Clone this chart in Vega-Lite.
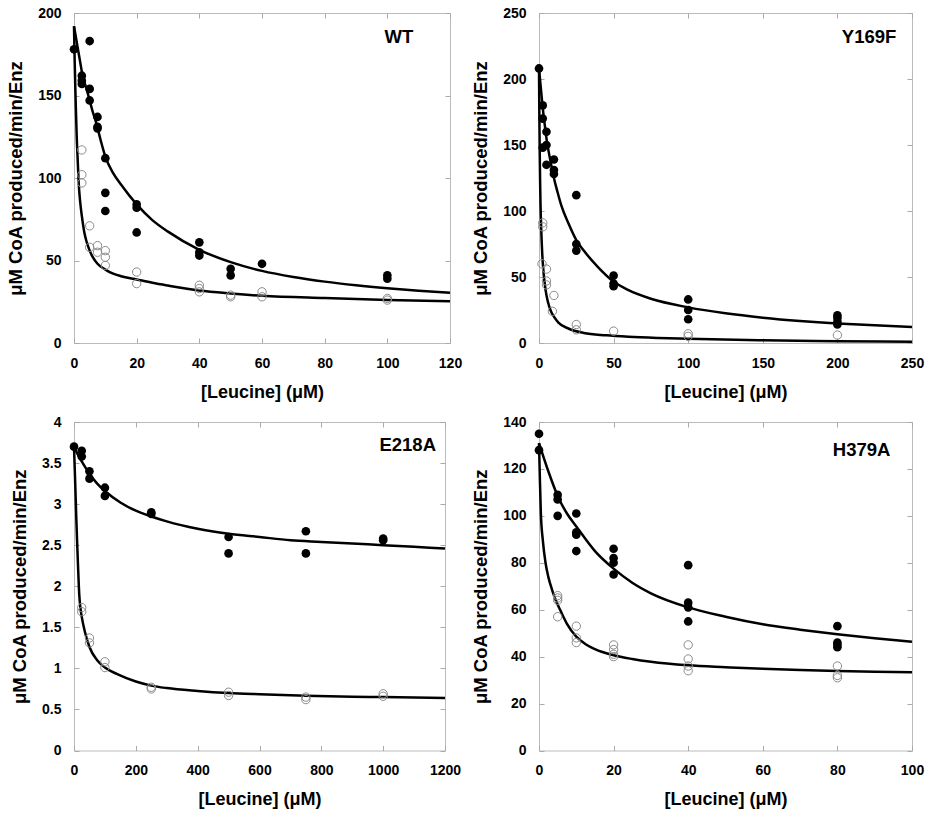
{
  "$schema": "https://vega.github.io/schema/vega-lite/v6.json",
  "background": "white",
  "padding": {"left": 6, "top": 5, "right": 5, "bottom": 5},
  "bounds": "flush",
  "columns": 2,
  "spacing": {"row": 79, "column": 89},
  "config": {
    "view": {"stroke": "#bbbbbb", "strokeWidth": 1},
    "axis": {
      "grid": false,
      "domain": false,
      "tickColor": "#aaaaaa",
      "tickSize": -5,
      "tickWidth": 1,
      "labelFlush": false,
      "labelFont": "Liberation Sans",
      "labelFontSize": 14,
      "labelFontWeight": "bold",
      "labelColor": "black",
      "labelPadding": 18,
      "titleFont": "Liberation Sans",
      "titleFontSize": 18,
      "titleFontWeight": "bold",
      "titleColor": "black"
    },
    "axisY": {"titleFontSize": 18.5, "titlePadding": 12},
    "axisX": {"titlePadding": 13}
  },
  "datasets": {
    "points": [
      {"panel": "WT", "kind": "filled", "x": 0, "y": 178},
      {"panel": "WT", "kind": "filled", "x": 2.5, "y": 162},
      {"panel": "WT", "kind": "filled", "x": 2.5, "y": 159},
      {"panel": "WT", "kind": "filled", "x": 2.5, "y": 157},
      {"panel": "WT", "kind": "filled", "x": 5, "y": 183},
      {"panel": "WT", "kind": "filled", "x": 5, "y": 154},
      {"panel": "WT", "kind": "filled", "x": 5, "y": 147},
      {"panel": "WT", "kind": "filled", "x": 7.5, "y": 137},
      {"panel": "WT", "kind": "filled", "x": 7.5, "y": 131},
      {"panel": "WT", "kind": "filled", "x": 7.5, "y": 130},
      {"panel": "WT", "kind": "filled", "x": 10, "y": 112},
      {"panel": "WT", "kind": "filled", "x": 10, "y": 91},
      {"panel": "WT", "kind": "filled", "x": 10, "y": 80},
      {"panel": "WT", "kind": "filled", "x": 20, "y": 84},
      {"panel": "WT", "kind": "filled", "x": 20, "y": 82},
      {"panel": "WT", "kind": "filled", "x": 20, "y": 67},
      {"panel": "WT", "kind": "filled", "x": 40, "y": 61},
      {"panel": "WT", "kind": "filled", "x": 40, "y": 55},
      {"panel": "WT", "kind": "filled", "x": 40, "y": 53},
      {"panel": "WT", "kind": "filled", "x": 50, "y": 45},
      {"panel": "WT", "kind": "filled", "x": 50, "y": 41},
      {"panel": "WT", "kind": "filled", "x": 60, "y": 48},
      {"panel": "WT", "kind": "filled", "x": 100, "y": 41},
      {"panel": "WT", "kind": "filled", "x": 100, "y": 39},
      {"panel": "WT", "kind": "open", "x": 2.5, "y": 117},
      {"panel": "WT", "kind": "open", "x": 2.5, "y": 102},
      {"panel": "WT", "kind": "open", "x": 2.5, "y": 97},
      {"panel": "WT", "kind": "open", "x": 5, "y": 71},
      {"panel": "WT", "kind": "open", "x": 5, "y": 58},
      {"panel": "WT", "kind": "open", "x": 7.5, "y": 59},
      {"panel": "WT", "kind": "open", "x": 7.5, "y": 55},
      {"panel": "WT", "kind": "open", "x": 10, "y": 56},
      {"panel": "WT", "kind": "open", "x": 10, "y": 52},
      {"panel": "WT", "kind": "open", "x": 10, "y": 47},
      {"panel": "WT", "kind": "open", "x": 20, "y": 43},
      {"panel": "WT", "kind": "open", "x": 20, "y": 36},
      {"panel": "WT", "kind": "open", "x": 40, "y": 35},
      {"panel": "WT", "kind": "open", "x": 40, "y": 33},
      {"panel": "WT", "kind": "open", "x": 40, "y": 31},
      {"panel": "WT", "kind": "open", "x": 50, "y": 29},
      {"panel": "WT", "kind": "open", "x": 50, "y": 28},
      {"panel": "WT", "kind": "open", "x": 60, "y": 31},
      {"panel": "WT", "kind": "open", "x": 60, "y": 28},
      {"panel": "WT", "kind": "open", "x": 100, "y": 27},
      {"panel": "WT", "kind": "open", "x": 100, "y": 26},

      {"panel": "Y169F", "kind": "filled", "x": 0, "y": 208},
      {"panel": "Y169F", "kind": "filled", "x": 2.5, "y": 180},
      {"panel": "Y169F", "kind": "filled", "x": 2.5, "y": 170},
      {"panel": "Y169F", "kind": "filled", "x": 2.5, "y": 148},
      {"panel": "Y169F", "kind": "filled", "x": 5, "y": 160},
      {"panel": "Y169F", "kind": "filled", "x": 5, "y": 150},
      {"panel": "Y169F", "kind": "filled", "x": 5, "y": 135},
      {"panel": "Y169F", "kind": "filled", "x": 10, "y": 139},
      {"panel": "Y169F", "kind": "filled", "x": 10, "y": 131},
      {"panel": "Y169F", "kind": "filled", "x": 10, "y": 128},
      {"panel": "Y169F", "kind": "filled", "x": 25, "y": 112},
      {"panel": "Y169F", "kind": "filled", "x": 25, "y": 75},
      {"panel": "Y169F", "kind": "filled", "x": 25, "y": 70},
      {"panel": "Y169F", "kind": "filled", "x": 50, "y": 51},
      {"panel": "Y169F", "kind": "filled", "x": 50, "y": 45},
      {"panel": "Y169F", "kind": "filled", "x": 50, "y": 43},
      {"panel": "Y169F", "kind": "filled", "x": 100, "y": 33},
      {"panel": "Y169F", "kind": "filled", "x": 100, "y": 25},
      {"panel": "Y169F", "kind": "filled", "x": 100, "y": 18},
      {"panel": "Y169F", "kind": "filled", "x": 200, "y": 21},
      {"panel": "Y169F", "kind": "filled", "x": 200, "y": 19},
      {"panel": "Y169F", "kind": "filled", "x": 200, "y": 16},
      {"panel": "Y169F", "kind": "filled", "x": 200, "y": 14},
      {"panel": "Y169F", "kind": "open", "x": 2.5, "y": 91},
      {"panel": "Y169F", "kind": "open", "x": 2.5, "y": 88},
      {"panel": "Y169F", "kind": "open", "x": 2, "y": 60},
      {"panel": "Y169F", "kind": "open", "x": 5, "y": 56},
      {"panel": "Y169F", "kind": "open", "x": 5, "y": 47},
      {"panel": "Y169F", "kind": "open", "x": 5, "y": 44},
      {"panel": "Y169F", "kind": "open", "x": 10, "y": 36},
      {"panel": "Y169F", "kind": "open", "x": 9, "y": 24},
      {"panel": "Y169F", "kind": "open", "x": 25, "y": 14},
      {"panel": "Y169F", "kind": "open", "x": 25, "y": 10},
      {"panel": "Y169F", "kind": "open", "x": 50, "y": 9},
      {"panel": "Y169F", "kind": "open", "x": 100, "y": 7},
      {"panel": "Y169F", "kind": "open", "x": 100, "y": 5},
      {"panel": "Y169F", "kind": "open", "x": 200, "y": 6},

      {"panel": "E218A", "kind": "filled", "x": 0, "y": 3.7},
      {"panel": "E218A", "kind": "filled", "x": 25, "y": 3.65},
      {"panel": "E218A", "kind": "filled", "x": 25, "y": 3.58},
      {"panel": "E218A", "kind": "filled", "x": 50, "y": 3.4},
      {"panel": "E218A", "kind": "filled", "x": 50, "y": 3.31},
      {"panel": "E218A", "kind": "filled", "x": 100, "y": 3.2},
      {"panel": "E218A", "kind": "filled", "x": 100, "y": 3.1},
      {"panel": "E218A", "kind": "filled", "x": 250, "y": 2.9},
      {"panel": "E218A", "kind": "filled", "x": 250, "y": 2.88},
      {"panel": "E218A", "kind": "filled", "x": 500, "y": 2.6},
      {"panel": "E218A", "kind": "filled", "x": 500, "y": 2.4},
      {"panel": "E218A", "kind": "filled", "x": 750, "y": 2.67},
      {"panel": "E218A", "kind": "filled", "x": 750, "y": 2.4},
      {"panel": "E218A", "kind": "filled", "x": 1000, "y": 2.58},
      {"panel": "E218A", "kind": "filled", "x": 1000, "y": 2.56},
      {"panel": "E218A", "kind": "open", "x": 25, "y": 1.74},
      {"panel": "E218A", "kind": "open", "x": 25, "y": 1.69},
      {"panel": "E218A", "kind": "open", "x": 50, "y": 1.37},
      {"panel": "E218A", "kind": "open", "x": 50, "y": 1.31},
      {"panel": "E218A", "kind": "open", "x": 100, "y": 1.08},
      {"panel": "E218A", "kind": "open", "x": 100, "y": 1.01},
      {"panel": "E218A", "kind": "open", "x": 250, "y": 0.77},
      {"panel": "E218A", "kind": "open", "x": 250, "y": 0.75},
      {"panel": "E218A", "kind": "open", "x": 500, "y": 0.71},
      {"panel": "E218A", "kind": "open", "x": 500, "y": 0.67},
      {"panel": "E218A", "kind": "open", "x": 750, "y": 0.65},
      {"panel": "E218A", "kind": "open", "x": 750, "y": 0.62},
      {"panel": "E218A", "kind": "open", "x": 1000, "y": 0.69},
      {"panel": "E218A", "kind": "open", "x": 1000, "y": 0.66},

      {"panel": "H379A", "kind": "filled", "x": 0, "y": 135},
      {"panel": "H379A", "kind": "filled", "x": 0, "y": 128},
      {"panel": "H379A", "kind": "filled", "x": 5, "y": 109},
      {"panel": "H379A", "kind": "filled", "x": 5, "y": 107},
      {"panel": "H379A", "kind": "filled", "x": 5, "y": 100},
      {"panel": "H379A", "kind": "filled", "x": 10, "y": 101},
      {"panel": "H379A", "kind": "filled", "x": 10, "y": 93},
      {"panel": "H379A", "kind": "filled", "x": 10, "y": 92},
      {"panel": "H379A", "kind": "filled", "x": 10, "y": 85},
      {"panel": "H379A", "kind": "filled", "x": 20, "y": 86},
      {"panel": "H379A", "kind": "filled", "x": 20, "y": 82},
      {"panel": "H379A", "kind": "filled", "x": 20, "y": 80},
      {"panel": "H379A", "kind": "filled", "x": 20, "y": 75},
      {"panel": "H379A", "kind": "filled", "x": 40, "y": 79},
      {"panel": "H379A", "kind": "filled", "x": 40, "y": 63},
      {"panel": "H379A", "kind": "filled", "x": 40, "y": 61},
      {"panel": "H379A", "kind": "filled", "x": 40, "y": 55},
      {"panel": "H379A", "kind": "filled", "x": 80, "y": 53},
      {"panel": "H379A", "kind": "filled", "x": 80, "y": 46},
      {"panel": "H379A", "kind": "filled", "x": 80, "y": 45},
      {"panel": "H379A", "kind": "filled", "x": 80, "y": 44},
      {"panel": "H379A", "kind": "open", "x": 5, "y": 66},
      {"panel": "H379A", "kind": "open", "x": 5, "y": 65},
      {"panel": "H379A", "kind": "open", "x": 5, "y": 64},
      {"panel": "H379A", "kind": "open", "x": 5, "y": 57},
      {"panel": "H379A", "kind": "open", "x": 10, "y": 53},
      {"panel": "H379A", "kind": "open", "x": 10, "y": 48},
      {"panel": "H379A", "kind": "open", "x": 10, "y": 46},
      {"panel": "H379A", "kind": "open", "x": 20, "y": 45},
      {"panel": "H379A", "kind": "open", "x": 20, "y": 43},
      {"panel": "H379A", "kind": "open", "x": 20, "y": 41},
      {"panel": "H379A", "kind": "open", "x": 20, "y": 40},
      {"panel": "H379A", "kind": "open", "x": 40, "y": 45},
      {"panel": "H379A", "kind": "open", "x": 40, "y": 39},
      {"panel": "H379A", "kind": "open", "x": 40, "y": 36},
      {"panel": "H379A", "kind": "open", "x": 40, "y": 34},
      {"panel": "H379A", "kind": "open", "x": 80, "y": 36},
      {"panel": "H379A", "kind": "open", "x": 80, "y": 32},
      {"panel": "H379A", "kind": "open", "x": 80, "y": 31}
    ],
    "curves": [
      {"panel": "WT", "series": "filled", "x": 0, "y": 192},
      {"panel": "WT", "series": "filled", "x": 1, "y": 181},
      {"panel": "WT", "series": "filled", "x": 2, "y": 170},
      {"panel": "WT", "series": "filled", "x": 2.75, "y": 162},
      {"panel": "WT", "series": "filled", "x": 4, "y": 154},
      {"panel": "WT", "series": "filled", "x": 5, "y": 147},
      {"panel": "WT", "series": "filled", "x": 6, "y": 140},
      {"panel": "WT", "series": "filled", "x": 7, "y": 134},
      {"panel": "WT", "series": "filled", "x": 8.5, "y": 123},
      {"panel": "WT", "series": "filled", "x": 10, "y": 113},
      {"panel": "WT", "series": "filled", "x": 12.5, "y": 103},
      {"panel": "WT", "series": "filled", "x": 15, "y": 96},
      {"panel": "WT", "series": "filled", "x": 20, "y": 84},
      {"panel": "WT", "series": "filled", "x": 25, "y": 74.5},
      {"panel": "WT", "series": "filled", "x": 30, "y": 67.5},
      {"panel": "WT", "series": "filled", "x": 40, "y": 56.5},
      {"panel": "WT", "series": "filled", "x": 50, "y": 49},
      {"panel": "WT", "series": "filled", "x": 60, "y": 43.7},
      {"panel": "WT", "series": "filled", "x": 70, "y": 40},
      {"panel": "WT", "series": "filled", "x": 80, "y": 37.2},
      {"panel": "WT", "series": "filled", "x": 90, "y": 35},
      {"panel": "WT", "series": "filled", "x": 100, "y": 33.2},
      {"panel": "WT", "series": "filled", "x": 110, "y": 31.7},
      {"panel": "WT", "series": "filled", "x": 120, "y": 30.4},
      {"panel": "WT", "series": "open", "x": 0, "y": 192},
      {"panel": "WT", "series": "open", "x": 0.2, "y": 172},
      {"panel": "WT", "series": "open", "x": 0.4, "y": 156},
      {"panel": "WT", "series": "open", "x": 0.6, "y": 142},
      {"panel": "WT", "series": "open", "x": 0.85, "y": 126},
      {"panel": "WT", "series": "open", "x": 1.2, "y": 110},
      {"panel": "WT", "series": "open", "x": 1.5, "y": 97},
      {"panel": "WT", "series": "open", "x": 2, "y": 85},
      {"panel": "WT", "series": "open", "x": 2.5, "y": 77},
      {"panel": "WT", "series": "open", "x": 3.3, "y": 67},
      {"panel": "WT", "series": "open", "x": 4, "y": 61.5},
      {"panel": "WT", "series": "open", "x": 5, "y": 56},
      {"panel": "WT", "series": "open", "x": 6, "y": 52},
      {"panel": "WT", "series": "open", "x": 7.5, "y": 48},
      {"panel": "WT", "series": "open", "x": 10, "y": 44.5},
      {"panel": "WT", "series": "open", "x": 12.5, "y": 42},
      {"panel": "WT", "series": "open", "x": 15, "y": 40.5},
      {"panel": "WT", "series": "open", "x": 20, "y": 38.5},
      {"panel": "WT", "series": "open", "x": 25, "y": 36.5},
      {"panel": "WT", "series": "open", "x": 30, "y": 34.8},
      {"panel": "WT", "series": "open", "x": 40, "y": 31.8},
      {"panel": "WT", "series": "open", "x": 50, "y": 30},
      {"panel": "WT", "series": "open", "x": 60, "y": 28.6},
      {"panel": "WT", "series": "open", "x": 80, "y": 27.2},
      {"panel": "WT", "series": "open", "x": 100, "y": 26.1},
      {"panel": "WT", "series": "open", "x": 120, "y": 25.3},

      {"panel": "Y169F", "series": "filled", "x": 0, "y": 208},
      {"panel": "Y169F", "series": "filled", "x": 1, "y": 196},
      {"panel": "Y169F", "series": "filled", "x": 2, "y": 184},
      {"panel": "Y169F", "series": "filled", "x": 3, "y": 173},
      {"panel": "Y169F", "series": "filled", "x": 4, "y": 164},
      {"panel": "Y169F", "series": "filled", "x": 5, "y": 155},
      {"panel": "Y169F", "series": "filled", "x": 6, "y": 148},
      {"panel": "Y169F", "series": "filled", "x": 8, "y": 136},
      {"panel": "Y169F", "series": "filled", "x": 10, "y": 125},
      {"panel": "Y169F", "series": "filled", "x": 12.5, "y": 114},
      {"panel": "Y169F", "series": "filled", "x": 15, "y": 104},
      {"panel": "Y169F", "series": "filled", "x": 20, "y": 90},
      {"panel": "Y169F", "series": "filled", "x": 25, "y": 78},
      {"panel": "Y169F", "series": "filled", "x": 30, "y": 70},
      {"panel": "Y169F", "series": "filled", "x": 40, "y": 57},
      {"panel": "Y169F", "series": "filled", "x": 50, "y": 46.5},
      {"panel": "Y169F", "series": "filled", "x": 60, "y": 40},
      {"panel": "Y169F", "series": "filled", "x": 75, "y": 33.5},
      {"panel": "Y169F", "series": "filled", "x": 100, "y": 27},
      {"panel": "Y169F", "series": "filled", "x": 125, "y": 22.5},
      {"panel": "Y169F", "series": "filled", "x": 150, "y": 19.2},
      {"panel": "Y169F", "series": "filled", "x": 175, "y": 16.7},
      {"panel": "Y169F", "series": "filled", "x": 200, "y": 14.8},
      {"panel": "Y169F", "series": "filled", "x": 225, "y": 13.4},
      {"panel": "Y169F", "series": "filled", "x": 250, "y": 12.2},
      {"panel": "Y169F", "series": "open", "x": 0, "y": 208},
      {"panel": "Y169F", "series": "open", "x": 0.25, "y": 170},
      {"panel": "Y169F", "series": "open", "x": 0.5, "y": 143},
      {"panel": "Y169F", "series": "open", "x": 0.75, "y": 122},
      {"panel": "Y169F", "series": "open", "x": 1, "y": 106},
      {"panel": "Y169F", "series": "open", "x": 1.5, "y": 86},
      {"panel": "Y169F", "series": "open", "x": 2.2, "y": 67},
      {"panel": "Y169F", "series": "open", "x": 3, "y": 54},
      {"panel": "Y169F", "series": "open", "x": 4.5, "y": 39.5},
      {"panel": "Y169F", "series": "open", "x": 6, "y": 31},
      {"panel": "Y169F", "series": "open", "x": 8, "y": 24},
      {"panel": "Y169F", "series": "open", "x": 10, "y": 20},
      {"panel": "Y169F", "series": "open", "x": 13, "y": 15.5},
      {"panel": "Y169F", "series": "open", "x": 20, "y": 10.8},
      {"panel": "Y169F", "series": "open", "x": 30, "y": 7.6},
      {"panel": "Y169F", "series": "open", "x": 45, "y": 5.8},
      {"panel": "Y169F", "series": "open", "x": 60, "y": 4.7},
      {"panel": "Y169F", "series": "open", "x": 80, "y": 3.8},
      {"panel": "Y169F", "series": "open", "x": 100, "y": 3.2},
      {"panel": "Y169F", "series": "open", "x": 150, "y": 2.1},
      {"panel": "Y169F", "series": "open", "x": 200, "y": 1.4},
      {"panel": "Y169F", "series": "open", "x": 250, "y": 0.9},

      {"panel": "E218A", "series": "filled", "x": 0, "y": 3.7},
      {"panel": "E218A", "series": "filled", "x": 10, "y": 3.62},
      {"panel": "E218A", "series": "filled", "x": 25, "y": 3.52},
      {"panel": "E218A", "series": "filled", "x": 50, "y": 3.37},
      {"panel": "E218A", "series": "filled", "x": 75, "y": 3.25},
      {"panel": "E218A", "series": "filled", "x": 100, "y": 3.16},
      {"panel": "E218A", "series": "filled", "x": 150, "y": 3.02},
      {"panel": "E218A", "series": "filled", "x": 200, "y": 2.92},
      {"panel": "E218A", "series": "filled", "x": 250, "y": 2.85},
      {"panel": "E218A", "series": "filled", "x": 300, "y": 2.79},
      {"panel": "E218A", "series": "filled", "x": 400, "y": 2.7},
      {"panel": "E218A", "series": "filled", "x": 500, "y": 2.64},
      {"panel": "E218A", "series": "filled", "x": 600, "y": 2.6},
      {"panel": "E218A", "series": "filled", "x": 700, "y": 2.56},
      {"panel": "E218A", "series": "filled", "x": 800, "y": 2.54},
      {"panel": "E218A", "series": "filled", "x": 900, "y": 2.52},
      {"panel": "E218A", "series": "filled", "x": 1000, "y": 2.5},
      {"panel": "E218A", "series": "filled", "x": 1100, "y": 2.48},
      {"panel": "E218A", "series": "filled", "x": 1200, "y": 2.46},
      {"panel": "E218A", "series": "open", "x": 0, "y": 3.7},
      {"panel": "E218A", "series": "open", "x": 2.5, "y": 3.42},
      {"panel": "E218A", "series": "open", "x": 5, "y": 3.13},
      {"panel": "E218A", "series": "open", "x": 7.5, "y": 2.82},
      {"panel": "E218A", "series": "open", "x": 10, "y": 2.55},
      {"panel": "E218A", "series": "open", "x": 13, "y": 2.25},
      {"panel": "E218A", "series": "open", "x": 17, "y": 1.9},
      {"panel": "E218A", "series": "open", "x": 20, "y": 1.76},
      {"panel": "E218A", "series": "open", "x": 25, "y": 1.63},
      {"panel": "E218A", "series": "open", "x": 35, "y": 1.45},
      {"panel": "E218A", "series": "open", "x": 50, "y": 1.26},
      {"panel": "E218A", "series": "open", "x": 75, "y": 1.1},
      {"panel": "E218A", "series": "open", "x": 100, "y": 1.01},
      {"panel": "E218A", "series": "open", "x": 140, "y": 0.93},
      {"panel": "E218A", "series": "open", "x": 200, "y": 0.84},
      {"panel": "E218A", "series": "open", "x": 250, "y": 0.79},
      {"panel": "E218A", "series": "open", "x": 300, "y": 0.76},
      {"panel": "E218A", "series": "open", "x": 400, "y": 0.725},
      {"panel": "E218A", "series": "open", "x": 500, "y": 0.7},
      {"panel": "E218A", "series": "open", "x": 600, "y": 0.685},
      {"panel": "E218A", "series": "open", "x": 750, "y": 0.667},
      {"panel": "E218A", "series": "open", "x": 900, "y": 0.655},
      {"panel": "E218A", "series": "open", "x": 1000, "y": 0.65},
      {"panel": "E218A", "series": "open", "x": 1200, "y": 0.64},

      {"panel": "H379A", "series": "filled", "x": 0, "y": 131},
      {"panel": "H379A", "series": "filled", "x": 2.5, "y": 119},
      {"panel": "H379A", "series": "filled", "x": 5, "y": 108.5},
      {"panel": "H379A", "series": "filled", "x": 7.5, "y": 101},
      {"panel": "H379A", "series": "filled", "x": 10, "y": 95.5},
      {"panel": "H379A", "series": "filled", "x": 15, "y": 85},
      {"panel": "H379A", "series": "filled", "x": 20, "y": 77.5},
      {"panel": "H379A", "series": "filled", "x": 25, "y": 71.5},
      {"panel": "H379A", "series": "filled", "x": 30, "y": 67},
      {"panel": "H379A", "series": "filled", "x": 40, "y": 61},
      {"panel": "H379A", "series": "filled", "x": 50, "y": 57},
      {"panel": "H379A", "series": "filled", "x": 60, "y": 53.8},
      {"panel": "H379A", "series": "filled", "x": 70, "y": 51.5},
      {"panel": "H379A", "series": "filled", "x": 80, "y": 49.5},
      {"panel": "H379A", "series": "filled", "x": 90, "y": 47.8},
      {"panel": "H379A", "series": "filled", "x": 100, "y": 46.3},
      {"panel": "H379A", "series": "open", "x": 0, "y": 131},
      {"panel": "H379A", "series": "open", "x": 0.25, "y": 115},
      {"panel": "H379A", "series": "open", "x": 0.5, "y": 101},
      {"panel": "H379A", "series": "open", "x": 1, "y": 90},
      {"panel": "H379A", "series": "open", "x": 1.75, "y": 80},
      {"panel": "H379A", "series": "open", "x": 2.5, "y": 74},
      {"panel": "H379A", "series": "open", "x": 3.5, "y": 68.5},
      {"panel": "H379A", "series": "open", "x": 4.5, "y": 64},
      {"panel": "H379A", "series": "open", "x": 5.8, "y": 59.5},
      {"panel": "H379A", "series": "open", "x": 7.5, "y": 54},
      {"panel": "H379A", "series": "open", "x": 10, "y": 48.5},
      {"panel": "H379A", "series": "open", "x": 12.5, "y": 45.3},
      {"panel": "H379A", "series": "open", "x": 15, "y": 43.2},
      {"panel": "H379A", "series": "open", "x": 20, "y": 40.6},
      {"panel": "H379A", "series": "open", "x": 25, "y": 39},
      {"panel": "H379A", "series": "open", "x": 30, "y": 37.8},
      {"panel": "H379A", "series": "open", "x": 40, "y": 36.3},
      {"panel": "H379A", "series": "open", "x": 50, "y": 35.5},
      {"panel": "H379A", "series": "open", "x": 60, "y": 34.8},
      {"panel": "H379A", "series": "open", "x": 70, "y": 34.3},
      {"panel": "H379A", "series": "open", "x": 80, "y": 33.9},
      {"panel": "H379A", "series": "open", "x": 90, "y": 33.6},
      {"panel": "H379A", "series": "open", "x": 100, "y": 33.3}
    ],
    "labels": [
      {"panel": "WT", "x": 108.3, "y": 182, "text": "WT"},
      {"panel": "Y169F", "x": 239.5, "y": 227.5, "text": "Y169F"},
      {"panel": "E218A", "x": 1171, "y": 3.645, "text": "E218A"},
      {"panel": "H379A", "x": 94.2, "y": 125.4, "text": "H379A"}
    ]
  },
  "concat": [
    {
      "width": 376, "height": 330,
      "resolve": {"axis": {"x": "independent", "y": "independent"}},
      "layer": [
        {
          "data": {"name": "curves"},
          "transform": [{"filter": "datum.panel === 'WT'"}],
          "mark": {"type": "line", "color": "black", "strokeWidth": 2.5, "interpolate": "monotone"},
          "encoding": {
            "x": {"field": "x", "type": "quantitative", "scale": {"domain": [0, 120], "nice": false}, "axis": {"values": [0, 20, 40, 60, 80, 100, 120], "title": "[Leucine] (μM)", "format": "d"}},
            "y": {"field": "y", "type": "quantitative", "scale": {"domain": [0, 200], "nice": false}, "axis": {"values": [0, 50, 100, 150, 200], "title": "μM CoA produced/min/Enz", "format": "d"}},
            "detail": {"field": "series"}
          }
        },
        {
          "data": {"name": "points"},
          "transform": [{"filter": "datum.panel === 'WT' && datum.kind === 'open'"}],
          "mark": {"type": "point", "shape": "circle", "filled": false, "stroke": "#8a8a8a", "strokeWidth": 1, "size": 70, "opacity": 1},
          "encoding": {
            "x": {"field": "x", "type": "quantitative", "axis": {"orient": "top", "values": [0, 20, 40, 60, 80, 100, 120], "labels": false, "title": null}},
            "y": {"field": "y", "type": "quantitative", "axis": {"orient": "right", "values": [0, 50, 100, 150, 200], "labels": false, "title": null}}
          }
        },
        {
          "data": {"name": "points"},
          "transform": [{"filter": "datum.panel === 'WT' && datum.kind === 'filled'"}],
          "mark": {"type": "circle", "color": "black", "size": 75, "opacity": 1},
          "encoding": {
            "x": {"field": "x", "type": "quantitative", "axis": null},
            "y": {"field": "y", "type": "quantitative", "axis": null}
          }
        },
        {
          "data": {"name": "labels"},
          "transform": [{"filter": "datum.panel === 'WT'"}],
          "mark": {"type": "text", "align": "right", "baseline": "alphabetic", "font": "Liberation Sans", "fontSize": 18.5, "fontWeight": "bold", "color": "black"},
          "encoding": {
            "x": {"field": "x", "type": "quantitative", "axis": null},
            "y": {"field": "y", "type": "quantitative", "axis": null},
            "text": {"field": "text"}
          }
        }
      ]
    },
    {
      "width": 373, "height": 330,
      "resolve": {"axis": {"x": "independent", "y": "independent"}},
      "layer": [
        {
          "data": {"name": "curves"},
          "transform": [{"filter": "datum.panel === 'Y169F'"}],
          "mark": {"type": "line", "color": "black", "strokeWidth": 2.5, "interpolate": "monotone"},
          "encoding": {
            "x": {"field": "x", "type": "quantitative", "scale": {"domain": [0, 250], "nice": false}, "axis": {"values": [0, 50, 100, 150, 200, 250], "title": "[Leucine] (μM)", "format": "d"}},
            "y": {"field": "y", "type": "quantitative", "scale": {"domain": [0, 250], "nice": false}, "axis": {"values": [0, 50, 100, 150, 200, 250], "title": "μM CoA produced/min/Enz", "format": "d"}},
            "detail": {"field": "series"}
          }
        },
        {
          "data": {"name": "points"},
          "transform": [{"filter": "datum.panel === 'Y169F' && datum.kind === 'open'"}],
          "mark": {"type": "point", "shape": "circle", "filled": false, "stroke": "#8a8a8a", "strokeWidth": 1, "size": 70, "opacity": 1},
          "encoding": {
            "x": {"field": "x", "type": "quantitative", "axis": {"orient": "top", "values": [0, 50, 100, 150, 200, 250], "labels": false, "title": null}},
            "y": {"field": "y", "type": "quantitative", "axis": {"orient": "right", "values": [0, 50, 100, 150, 200, 250], "labels": false, "title": null}}
          }
        },
        {
          "data": {"name": "points"},
          "transform": [{"filter": "datum.panel === 'Y169F' && datum.kind === 'filled'"}],
          "mark": {"type": "circle", "color": "black", "size": 75, "opacity": 1},
          "encoding": {
            "x": {"field": "x", "type": "quantitative", "axis": null},
            "y": {"field": "y", "type": "quantitative", "axis": null}
          }
        },
        {
          "data": {"name": "labels"},
          "transform": [{"filter": "datum.panel === 'Y169F'"}],
          "mark": {"type": "text", "align": "right", "baseline": "alphabetic", "font": "Liberation Sans", "fontSize": 18.5, "fontWeight": "bold", "color": "black"},
          "encoding": {
            "x": {"field": "x", "type": "quantitative", "axis": null},
            "y": {"field": "y", "type": "quantitative", "axis": null},
            "text": {"field": "text"}
          }
        }
      ]
    },
    {
      "width": 371, "height": 328.5,
      "resolve": {"axis": {"x": "independent", "y": "independent"}},
      "layer": [
        {
          "data": {"name": "curves"},
          "transform": [{"filter": "datum.panel === 'E218A'"}],
          "mark": {"type": "line", "color": "black", "strokeWidth": 2.5, "interpolate": "monotone"},
          "encoding": {
            "x": {"field": "x", "type": "quantitative", "scale": {"domain": [0, 1200], "nice": false}, "axis": {"values": [0, 200, 400, 600, 800, 1000, 1200], "title": "[Leucine] (μM)", "format": "d"}},
            "y": {"field": "y", "type": "quantitative", "scale": {"domain": [0, 4], "nice": false}, "axis": {"values": [0, 0.5, 1, 1.5, 2, 2.5, 3, 3.5, 4], "title": "μM CoA produced/min/Enz", "format": "~r"}},
            "detail": {"field": "series"}
          }
        },
        {
          "data": {"name": "points"},
          "transform": [{"filter": "datum.panel === 'E218A' && datum.kind === 'open'"}],
          "mark": {"type": "point", "shape": "circle", "filled": false, "stroke": "#8a8a8a", "strokeWidth": 1, "size": 70, "opacity": 1},
          "encoding": {
            "x": {"field": "x", "type": "quantitative", "axis": {"orient": "top", "values": [0, 200, 400, 600, 800, 1000, 1200], "labels": false, "title": null}},
            "y": {"field": "y", "type": "quantitative", "axis": {"orient": "right", "values": [0, 0.5, 1, 1.5, 2, 2.5, 3, 3.5, 4], "labels": false, "title": null}}
          }
        },
        {
          "data": {"name": "points"},
          "transform": [{"filter": "datum.panel === 'E218A' && datum.kind === 'filled'"}],
          "mark": {"type": "circle", "color": "black", "size": 75, "opacity": 1},
          "encoding": {
            "x": {"field": "x", "type": "quantitative", "axis": null},
            "y": {"field": "y", "type": "quantitative", "axis": null}
          }
        },
        {
          "data": {"name": "labels"},
          "transform": [{"filter": "datum.panel === 'E218A'"}],
          "mark": {"type": "text", "align": "right", "baseline": "alphabetic", "font": "Liberation Sans", "fontSize": 18.5, "fontWeight": "bold", "color": "black"},
          "encoding": {
            "x": {"field": "x", "type": "quantitative", "axis": null},
            "y": {"field": "y", "type": "quantitative", "axis": null},
            "text": {"field": "text"}
          }
        }
      ]
    },
    {
      "width": 373, "height": 328.5,
      "resolve": {"axis": {"x": "independent", "y": "independent"}},
      "layer": [
        {
          "data": {"name": "curves"},
          "transform": [{"filter": "datum.panel === 'H379A'"}],
          "mark": {"type": "line", "color": "black", "strokeWidth": 2.5, "interpolate": "monotone"},
          "encoding": {
            "x": {"field": "x", "type": "quantitative", "scale": {"domain": [0, 100], "nice": false}, "axis": {"values": [0, 20, 40, 60, 80, 100], "title": "[Leucine] (μM)", "format": "d"}},
            "y": {"field": "y", "type": "quantitative", "scale": {"domain": [0, 140], "nice": false}, "axis": {"values": [0, 20, 40, 60, 80, 100, 120, 140], "title": "μM CoA produced/min/Enz", "format": "d"}},
            "detail": {"field": "series"}
          }
        },
        {
          "data": {"name": "points"},
          "transform": [{"filter": "datum.panel === 'H379A' && datum.kind === 'open'"}],
          "mark": {"type": "point", "shape": "circle", "filled": false, "stroke": "#8a8a8a", "strokeWidth": 1, "size": 70, "opacity": 1},
          "encoding": {
            "x": {"field": "x", "type": "quantitative", "axis": {"orient": "top", "values": [0, 20, 40, 60, 80, 100], "labels": false, "title": null}},
            "y": {"field": "y", "type": "quantitative", "axis": {"orient": "right", "values": [0, 20, 40, 60, 80, 100, 120, 140], "labels": false, "title": null}}
          }
        },
        {
          "data": {"name": "points"},
          "transform": [{"filter": "datum.panel === 'H379A' && datum.kind === 'filled'"}],
          "mark": {"type": "circle", "color": "black", "size": 75, "opacity": 1},
          "encoding": {
            "x": {"field": "x", "type": "quantitative", "axis": null},
            "y": {"field": "y", "type": "quantitative", "axis": null}
          }
        },
        {
          "data": {"name": "labels"},
          "transform": [{"filter": "datum.panel === 'H379A'"}],
          "mark": {"type": "text", "align": "right", "baseline": "alphabetic", "font": "Liberation Sans", "fontSize": 18.5, "fontWeight": "bold", "color": "black"},
          "encoding": {
            "x": {"field": "x", "type": "quantitative", "axis": null},
            "y": {"field": "y", "type": "quantitative", "axis": null},
            "text": {"field": "text"}
          }
        }
      ]
    }
  ]
}
